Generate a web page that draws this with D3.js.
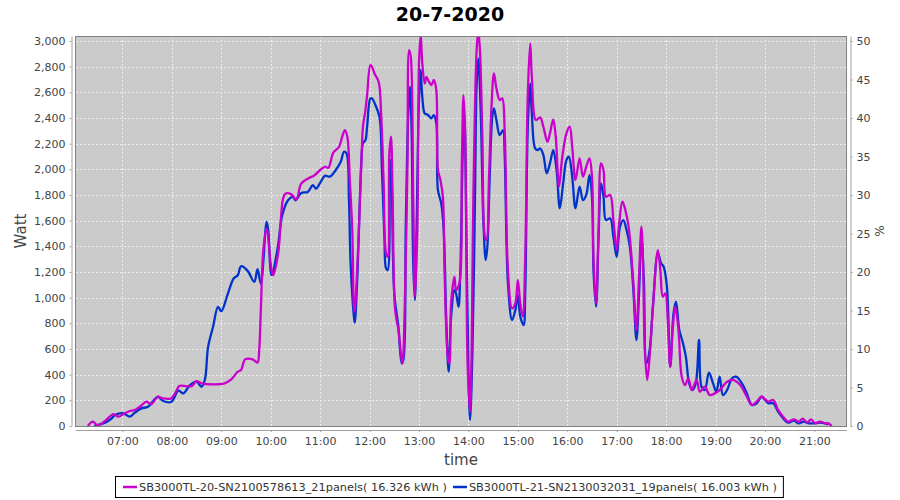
<!DOCTYPE html>
<html>
<head>
<meta charset="utf-8">
<script src="https://cdn.jsdelivr.net/npm/d3@7"></script>
<style>
  body { margin: 0; background: #ffffff; }
  svg text { font-family: "DejaVu Sans", sans-serif; }
</style>
</head>
<body>
<div id="chartDiv"></div>
<script>
//----------------------------------------------------------------------------------------------------
// values: [time, watt]
var chartTitle = "20-7-2020";
var seriesNames = ["SB3000TL-20-SN2100578613_21panels( 16.326 kWh )",
                   "SB3000TL-21-SN2130032031_19panels( 16.003 kWh )"];
var seriesColors = ["#cc00cc", "#0033cc"];

var pinkSeries = [
  ["06:18",0],["06:24",34],["06:30",5],["06:39",40],["06:49",93],["06:55",73],["07:03",100],
  ["07:09",117],["07:15",125],["07:23",160],["07:29",190],["07:35",171],["07:43",228],["07:49",215],
  ["07:59",215],["08:05",267],["08:09",311],["08:24",311],["08:30",350],["08:36",332],["09:04",332],
  ["09:12",363],["09:20",423],["09:24",436],["09:29",519],["09:38",519],["09:44",495],["09:46",590],
  ["09:48",903],["09:51",1370],["09:55",1538],["10:01",1214],["10:03",1175],["10:09",1344],
  ["10:15",1772],["10:18",1811],["10:25",1805],["10:31",1764],["10:37",1888],["10:45",1927],
  ["10:53",1953],["11:00",1995],["11:06",2020],["11:10",2012],["11:16",2130],["11:23",2176],
  ["11:27",2259],["11:30",2306],["11:33",2254],["11:36",1917],["11:39",1527],["11:41",930],
  ["11:42",891],["11:44",1087],["11:47",1527],["11:50",2046],["11:52",2332],["11:55",2462],
  ["11:57",2579],["12:01",2812],["12:03",2799],["12:06",2747],["12:11",2683],["12:14",2436],
  ["12:17",1917],["12:20",1345],["12:22",1319],["12:24",2124],["12:26",2254],["12:28",1787],
  ["12:31",904],["12:35",748],["12:39",514],["12:40",488],["12:43",1008],["12:46",2046],
  ["12:48",2929],["12:50",2877],["12:53",1787],["12:55",1007],["12:58",1527],["13:00",2825],
  ["13:02",3050],["13:04",2825],["13:07",2669],["13:09",2721],["13:12",2683],["13:15",2657],
  ["13:18",2696],["13:21",2618],["13:23",1995],["13:26",1917],["13:29",1787],["13:31",1215],
  ["13:35",540],["13:37",488],["13:39",956],["13:43",1163],["13:45",1060],["13:49",1111],
  ["13:52",2046],["13:54",2579],["13:56",2306],["13:59",488],["14:02",112],["14:04",618],
  ["14:06",1787],["14:10",2929],["14:12",3080],["14:14",2929],["14:17",2228],["14:20",1475],
  ["14:22",1449],["14:25",1943],["14:28",2488],["14:31",2747],["14:34",2631],["14:38",2540],
  ["14:41",2553],["14:44",2306],["14:48",1215],["14:53",917],["14:57",956],["15:00",1137],
  ["15:03",956],["15:06",852],["15:09",1319],["15:12",2566],["15:15",2981],["15:17",2720],
  ["15:22",2384],["15:27",2405],["15:31",2332],["15:36",2215],["15:39",2280],["15:43",2389],
  ["15:46",2254],["15:50",1865],["15:54",2098],["15:59",2280],["16:03",2332],["16:06",2176],
  ["16:10",1917],["16:15",2085],["16:19",1943],["16:23",2020],["16:27",2085],["16:30",1943],
  ["16:32",1267],["16:35",956],["16:38",1527],["16:41",2046],["16:44",1995],["16:47",1787],
  ["16:52",1800],["16:56",1605],["17:00",1371],["17:03",1579],["17:07",1748],["17:11",1670],
  ["17:15",1527],["17:20",1137],["17:24",748],["17:27",1137],["17:30",1553],["17:32",1267],
  ["17:34",618],["17:37",358],["17:40",540],["17:44",930],["17:50",1371],["17:53",1215],
  ["17:56",1008],["17:59",1034],["18:02",826],["18:05",462],["18:08",748],["18:11",930],
  ["18:15",748],["18:19",384],["18:23",319],["18:27",371],["18:31",280],["18:37",358],
  ["18:41",267],["18:47",306],["18:53",241],["18:59",254],["19:05",280],["19:14",345],
  ["19:22",358],["19:30",319],["19:38",228],["19:44",164],["19:50",190],["19:56",228],
  ["20:04",190],["20:10",203],["20:16",125],["20:22",73],["20:28",34],["20:35",52],["20:41",34],
  ["20:46",57],["20:51",26],["20:56",52],["21:01",21],["21:07",34],["21:13",21],["21:17",21],
  ["21:21",0]
];

var blueSeries = [
  ["06:26",0],["06:39",26],["06:47",60],["06:51",86],["07:01",99],["07:09",73],["07:15",104],
  ["07:23",137],["07:31",150],["07:43",228],["07:49",197],["07:59",187],["08:08",275],["08:14",254],
  ["08:22",319],["08:30",345],["08:36",306],["08:40",358],["08:44",617],["08:50",773],["08:56",929],
  ["09:00",895],["09:08",1032],["09:15",1149],["09:20",1175],["09:24",1245],["09:32",1209],
  ["09:40",1123],["09:44",1222],["09:48",1110],["09:55",1590],["09:57",1525],["10:01",1175],
  ["10:08",1370],["10:14",1642],["10:21",1759],["10:27",1785],["10:30",1759],["10:37",1816],
  ["10:45",1824],["10:51",1876],["10:55",1850],["11:00",1895],["11:06",1950],["11:12",1943],
  ["11:19",1995],["11:25",2059],["11:29",2137],["11:32",2124],["11:35",1761],["11:37",1267],
  ["11:41",852],["11:42",805],["11:45",1137],["11:50",2059],["11:52",2202],["11:55",2228],
  ["11:57",2332],["12:01",2553],["12:03",2553],["12:07",2501],["12:12",2410],["12:15",1995],
  ["12:18",1475],["12:20",1228],["12:22",1215],["12:25",2072],["12:26",2046],["12:30",1034],
  ["12:35",774],["12:39",488],["12:41",514],["12:44",1579],["12:47",2436],["12:49",2644],
  ["12:51",2306],["12:53",1267],["12:55",982],["12:57",1527],["13:00",2540],["13:02",2774],
  ["13:04",2566],["13:07",2436],["13:11",2423],["13:15",2397],["13:18",2423],["13:21",2358],
  ["13:23",1839],["13:27",1735],["13:30",1527],["13:33",852],["13:36",423],["13:39",852],
  ["13:43",1060],["13:45",1034],["13:48",930],["13:50",1163],["13:54",2358],["13:55",2436],
  ["13:58",1267],["14:00",462],["14:02",47],["14:05",618],["14:08",1787],["14:10",2670],
  ["14:12",2864],["14:15",2436],["14:18",1631],["14:21",1293],["14:23",1397],["14:26",1969],
  ["14:29",2410],["14:31",2475],["14:34",2384],["14:38",2267],["14:42",2306],["14:44",2111],
  ["14:48",1111],["14:53",826],["14:57",904],["15:00",1021],["15:03",852],["15:07",787],
  ["15:09",1060],["15:12",2306],["15:15",2670],["15:17",2436],["15:21",2163],["15:24",2150],
  ["15:27",2163],["15:31",2111],["15:35",1969],["15:39",2046],["15:43",2150],["15:47",1995],
  ["15:51",1696],["15:55",1891],["15:59",2072],["16:02",2098],["16:06",1943],["16:10",1696],
  ["16:15",1865],["16:19",1761],["16:23",1800],["16:27",1955],["16:30",1787],["16:32",1189],
  ["16:35",930],["16:38",1475],["16:41",1891],["16:44",1787],["16:47",1605],["16:52",1618],
  ["16:56",1475],["17:00",1319],["17:04",1553],["17:08",1605],["17:12",1527],["17:16",1397],
  ["17:20",1086],["17:24",670],["17:27",1007],["17:30",1475],["17:33",1137],["17:36",488],
  ["17:40",592],["17:44",930],["17:50",1345],["17:54",1267],["17:57",1241],["18:01",1086],
  ["18:05",462],["18:09",878],["18:12",969],["18:16",748],["18:20",657],["18:24",540],
  ["18:28",332],["18:32",280],["18:36",332],["18:40",670],["18:43",306],["18:47",280],
  ["18:52",416],["18:57",332],["19:01",267],["19:05",384],["19:09",241],["19:14",280],
  ["19:20",371],["19:25",384],["19:32",332],["19:38",254],["19:44",164],["19:50",177],
  ["19:56",228],["20:04",177],["20:10",177],["20:16",112],["20:22",60],["20:28",26],["20:35",42],
  ["20:41",21],["20:47",34],["20:53",21],["20:59",21],["21:07",26],["21:13",21],["21:17",13]
];

var hourTicks = ["07:00","08:00","09:00","10:00","11:00","12:00","13:00","14:00",
                 "15:00","16:00","17:00","18:00","19:00","20:00","21:00"];
var wattTicks = [0,200,400,600,800,1000,1200,1400,1600,1800,2000,2200,2400,2600,2800,3000];
var percentTicks = [0,5,10,15,20,25,30,35,40,45,50];

//----------------------------------------------------------------------------------------------------
var parseTime = function (s) {
   var p = s.split(":");
   return new Date(2020, 6, 20, +p[0], +p[1]);
};

var width = 900, height = 500;
var plot = {left: 75.5, right: 846.5, top: 36, bottom: 426};

var svg = d3.select("#chartDiv").append("svg")
    .attr("width", width)
    .attr("height", height);

var xScale = d3.scaleTime()
    .domain([parseTime("06:03"), parseTime("21:39")])
    .range([plot.left, plot.right]);

var yScale = d3.scaleLinear()
    .domain([0, 3039])
    .range([plot.bottom, plot.top]);

var pctScale = d3.scaleLinear()
    .domain([0, 50.65])
    .range([plot.bottom, plot.top]);

  // plot background
svg.append("rect")
   .attr("x", plot.left).attr("y", plot.top)
   .attr("width", plot.right - plot.left).attr("height", plot.bottom - plot.top)
   .attr("fill", "#cbcbcb");

  // grid lines
var grid = svg.append("g")
   .attr("stroke", "#ececec").attr("stroke-width", 1)
   .attr("stroke-dasharray", "2,2").attr("shape-rendering", "crispEdges");

grid.selectAll("line.v").data(hourTicks).enter().append("line")
   .attr("x1", function(d){ return Math.round(xScale(parseTime(d))) + 0.5; })
   .attr("x2", function(d){ return Math.round(xScale(parseTime(d))) + 0.5; })
   .attr("y1", plot.top).attr("y2", plot.bottom);

grid.selectAll("line.h").data(wattTicks.slice(1)).enter().append("line")
   .attr("y1", function(d){ return Math.round(yScale(d)) + 0.5; })
   .attr("y2", function(d){ return Math.round(yScale(d)) + 0.5; })
   .attr("x1", plot.left).attr("x2", plot.right);

  // series lines, clipped to the plot
svg.append("clipPath").attr("id", "plotClip")
   .append("rect")
   .attr("x", plot.left).attr("y", plot.top)
   .attr("width", plot.right - plot.left).attr("height", plot.bottom - plot.top);

var line = d3.line()
   .x(function(d){ return xScale(parseTime(d[0])); })
   .y(function(d){ return yScale(d[1]); })
   .curve(d3.curveCatmullRom.alpha(0.5));

var lines = svg.append("g").attr("clip-path", "url(#plotClip)");

  // blue first so the magenta series sits on top
[[blueSeries, seriesColors[1]], [pinkSeries, seriesColors[0]]].forEach(function(s){
   lines.append("path")
      .datum(s[0])
      .attr("d", line)
      .attr("fill", "none")
      .attr("stroke", s[1])
      .attr("stroke-width", 2.3)
      .attr("stroke-linejoin", "round");
   });

  // plot border
svg.append("rect")
   .attr("x", plot.left).attr("y", plot.top)
   .attr("width", plot.right - plot.left).attr("height", plot.bottom - plot.top)
   .attr("fill", "none").attr("stroke", "#808080").attr("stroke-width", 1)
   .attr("shape-rendering", "crispEdges");

  // axes
var xAxis = d3.axisBottom(xScale)
   .tickValues(hourTicks.map(parseTime))
   .tickFormat(d3.timeFormat("%H:%M"))
   .tickSizeInner(2).tickSizeOuter(0).tickPadding(5);

var yAxis = d3.axisLeft(yScale)
   .tickValues(wattTicks)
   .tickFormat(d3.format(","))
   .tickSizeInner(2).tickSizeOuter(0).tickPadding(4);

var pctAxis = d3.axisRight(pctScale)
   .tickValues(percentTicks)
   .tickSizeInner(2).tickSizeOuter(0).tickPadding(4);

var styleAxis = function (g) {
   g.select(".domain").attr("stroke", "#a0a0a0");
   g.selectAll(".tick line").attr("stroke", "#a0a0a0");
   g.selectAll(".tick text").attr("fill", "#444444")
      .style("font-size", "11px").style("font-family", "DejaVu Sans, sans-serif");
};

svg.append("g").attr("transform", "translate(0," + (plot.bottom + 4) + ")")
   .call(xAxis).call(styleAxis);
svg.append("g").attr("transform", "translate(" + (plot.left - 4) + ",0)")
   .call(yAxis).call(styleAxis);
svg.append("g").attr("transform", "translate(" + (plot.right + 4) + ",0)")
   .call(pctAxis).call(styleAxis);

  // labels
svg.append("text")
   .attr("x", width / 2).attr("y", 21)
   .attr("text-anchor", "middle")
   .style("font-size", "19px").style("font-weight", "bold")
   .attr("fill", "#000000")
   .text(chartTitle);

svg.append("text")
   .attr("transform", "translate(26," + ((plot.top + plot.bottom) / 2) + ") rotate(-90)")
   .attr("text-anchor", "middle")
   .style("font-size", "15px").attr("fill", "#444444")
   .text("Watt");

svg.append("text")
   .attr("transform", "translate(884," + ((plot.top + plot.bottom) / 2) + ") rotate(-90)")
   .attr("text-anchor", "middle")
   .style("font-size", "12px").attr("fill", "#444444")
   .text("%");

svg.append("text")
   .attr("x", (plot.left + plot.right) / 2).attr("y", 465)
   .attr("text-anchor", "middle")
   .style("font-size", "15px").attr("fill", "#444444")
   .text("time");

  // legend
var legend = svg.append("g");
var lx = 0;
seriesNames.forEach(function(name, i){
   var item = legend.append("g").attr("transform", "translate(" + lx + ",0)");
   item.append("line")
      .attr("x1", 0).attr("x2", 14).attr("y1", 0).attr("y2", 0)
      .attr("stroke", seriesColors[i]).attr("stroke-width", 2.5);
   var t = item.append("text")
      .attr("x", 16).attr("y", 4)
      .style("font-size", "11.3px").attr("fill", "#333333")
      .text(name);
   lx += 16 + t.node().getComputedTextLength() + 6;
   });
var legendWidth = lx - 6;
var legendLeft = Math.round(width / 2 - legendWidth / 2);
legend.attr("transform", "translate(" + legendLeft + ",487)");
svg.append("rect")
   .attr("x", legendLeft - 7.5).attr("y", 476.5)
   .attr("width", legendWidth + 14).attr("height", 21)
   .attr("fill", "none").attr("stroke", "#000000").attr("stroke-width", 1);

</script>
</body>
</html>
